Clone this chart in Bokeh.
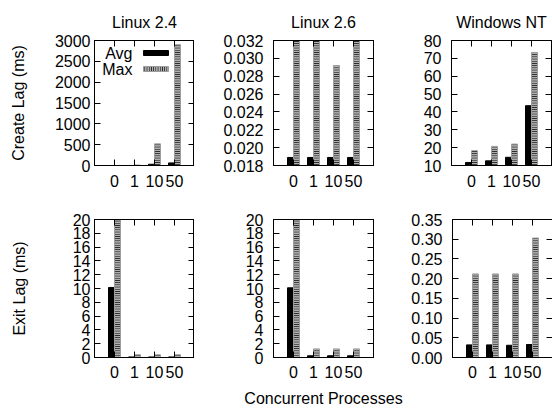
from bokeh.plotting import figure
from bokeh.models import (FactorRange, Range1d, FixedTicker, PrintfTickFormatter,
                          LinearAxis, CategoricalAxis, Label, BoxAnnotation, ColumnDataSource)
from bokeh.transform import dodge
from bokeh.layouts import column, row
from bokeh.embed import file_html
from bokeh.resources import INLINE

# ---------------- data ----------------
procs = ["0", "1", "10", "50"]
titles = ["Linux 2.4", "Linux 2.6", "Windows NT"]
series_names = ["Avg", "Max"]

create_avg_linux24 = [0.3, 0.6, 30, 62]
create_max_linux24 = [1, 12, 520, 2900]
create_avg_linux26 = [0.0189, 0.0189, 0.0189, 0.0189]
create_max_linux26 = [0.0325, 0.0325, 0.0292, 0.0325]
create_avg_winnt = [11.7, 12.6, 14.6, 43.5]
create_max_winnt = [18.3, 20.7, 22.0, 73.3]

exit_avg_linux24 = [10.15, 0.08, 0.08, 0.08]
exit_max_linux24 = [21.0, 0.4, 0.4, 0.4]
exit_avg_linux26 = [10.1, 0.25, 0.25, 0.25]
exit_max_linux26 = [21.0, 1.25, 1.25, 1.25]
exit_avg_winnt = [0.032, 0.032, 0.031, 0.033]
exit_max_winnt = [0.212, 0.212, 0.212, 0.303]

yticks_create_linux24 = [0, 500, 1000, 1500, 2000, 2500, 3000]
yticks_create_linux26 = [0.018, 0.020, 0.022, 0.024, 0.026, 0.028, 0.030, 0.032]
yticks_create_winnt = [10, 20, 30, 40, 50, 60, 70, 80]
yticks_exit_linux = [0, 2, 4, 6, 8, 10, 12, 14, 16, 18, 20]
yticks_exit_winnt = [0.00, 0.05, 0.10, 0.15, 0.20, 0.25, 0.30, 0.35]

ylabel_create = "Create Lag (ms)"
ylabel_exit = "Exit Lag (ms)"
xlabel = "Concurrent Processes"

# ---------------- style ----------------
FONT = "Liberation Sans"
FS = "16px"
MAX_FILL = "#b0b0b0"
MAX_LINE = "#9c9c9c"

col_left = [94, 79, 43]
col_right = [0, 35, 1]
col_fw = [100, 100, 100]
col_standoff = [4, 10, 10]
row_top = [40, 24]
row_bottom = [30, 50]
row_fh = [125, 138]
row_xstandoff = [9, 8]
ylabel_standoff = [25, 42]


def make_panel(r, c, avg, mx, yticks, fmt, title=None, ylabel=None, xlab=None, legend=False):
    p = figure(frame_width=col_fw[c], frame_height=row_fh[r],
               x_range=FactorRange(factors=procs, range_padding=0.25),
               y_range=Range1d(yticks[0], yticks[-1]),
               output_backend="svg", toolbar_location=None,
               min_border_left=col_left[c], min_border_right=col_right[c],
               min_border_top=row_top[r], min_border_bottom=row_bottom[r])
    p.background_fill_color = "white"
    p.border_fill_color = "white"
    p.outline_line_color = "black"
    p.outline_line_width = 1
    p.xgrid.grid_line_color = None
    p.ygrid.grid_line_color = None

    src = ColumnDataSource(dict(procs=procs, avg=avg, mx=mx))
    p.vbar(x=dodge("procs", -0.15, range=p.x_range), top="avg", bottom=0, width=0.3,
           source=src, fill_color="black", line_color="black")
    p.vbar(x=dodge("procs", 0.15, range=p.x_range), top="mx", bottom=0, width=0.3,
           source=src, fill_color=MAX_FILL, line_color=MAX_LINE,
           hatch_pattern="horizontal_line", hatch_color="black", hatch_scale=2.2, hatch_weight=1)

    if title:
        p.title.text = title
        p.title.align = "center"
        p.title.text_font = FONT
        p.title.text_font_size = FS
        p.title.text_font_style = "normal"
        p.title.text_color = "black"
        p.title.standoff = 19

    xa = p.xaxis[0]
    xa.major_tick_in = 6
    xa.major_tick_out = 0
    xa.axis_line_color = "black"
    xa.major_tick_line_color = "black"
    xa.major_label_text_font = FONT
    xa.major_label_text_font_size = FS
    xa.major_label_text_color = "black"
    xa.major_label_standoff = row_xstandoff[r]
    if xlab:
        xa.axis_label = xlab
        xa.axis_label_text_font = FONT
        xa.axis_label_text_font_size = FS
        xa.axis_label_text_font_style = "normal"
        xa.axis_label_text_color = "black"
        xa.axis_label_standoff = 9

    ya = p.yaxis[0]
    ya.ticker = FixedTicker(ticks=yticks)
    ya.formatter = PrintfTickFormatter(format=fmt)
    ya.major_tick_in = 6
    ya.major_tick_out = 0
    ya.minor_tick_in = 0
    ya.minor_tick_out = 0
    ya.axis_line_color = "black"
    ya.major_tick_line_color = "black"
    ya.major_label_text_font = FONT
    ya.major_label_text_font_size = FS
    ya.major_label_text_color = "black"
    ya.major_label_standoff = col_standoff[c]
    if ylabel:
        ya.axis_label = ylabel
        ya.axis_label_text_font = FONT
        ya.axis_label_text_font_size = FS
        ya.axis_label_text_font_style = "normal"
        ya.axis_label_text_color = "black"
        ya.axis_label_standoff = ylabel_standoff[r]

    # mirrored tick marks (no labels)
    ra = LinearAxis(ticker=FixedTicker(ticks=yticks), major_label_text_font_size="0px",
                    major_label_text_color=None,
                    major_tick_in=6, major_tick_out=0, minor_tick_in=0, minor_tick_out=0,
                    major_label_standoff=0, axis_line_color="black")
    p.add_layout(ra, "right")
    ta = CategoricalAxis(major_label_text_font_size="0px", major_label_text_color=None,
                         major_tick_in=6, major_tick_out=0,
                         major_label_standoff=0, axis_line_color="black")
    p.add_layout(ta, "above")

    if legend:
        fh = row_fh[r]
        for i, name in enumerate(series_names):
            yc = fh - 12.5 - 16 * i
            p.add_layout(Label(x=38, y=yc, x_units="screen", y_units="screen", text=name,
                               text_align="right", text_baseline="middle",
                               text_font=FONT, text_font_size=FS, text_color="black"))
            if i == 0:
                box = BoxAnnotation(left=49, right=74, bottom=yc - 2.5, top=yc + 2.5,
                                    left_units="screen", right_units="screen",
                                    top_units="screen", bottom_units="screen",
                                    fill_color="black", fill_alpha=1,
                                    line_color="black", line_alpha=1)
            else:
                box = BoxAnnotation(left=49, right=74, bottom=yc - 2.5, top=yc + 2.5,
                                    left_units="screen", right_units="screen",
                                    top_units="screen", bottom_units="screen",
                                    fill_color=MAX_FILL, fill_alpha=1,
                                    line_color=MAX_LINE, line_alpha=1,
                                    hatch_pattern="vertical_line", hatch_color="black",
                                    hatch_scale=2.2, hatch_weight=1, hatch_alpha=1)
            p.add_layout(box)
    return p


p1 = make_panel(0, 0, create_avg_linux24, create_max_linux24, yticks_create_linux24, "%d",
                title=titles[0], ylabel=ylabel_create, legend=True)
p2 = make_panel(0, 1, create_avg_linux26, create_max_linux26, yticks_create_linux26, "%.3f",
                title=titles[1])
p3 = make_panel(0, 2, create_avg_winnt, create_max_winnt, yticks_create_winnt, "%d",
                title=titles[2])
p4 = make_panel(1, 0, exit_avg_linux24, exit_max_linux24, yticks_exit_linux, "%d",
                ylabel=ylabel_exit)
p5 = make_panel(1, 1, exit_avg_linux26, exit_max_linux26, yticks_exit_linux, "%d",
                xlab=xlabel)
p6 = make_panel(1, 2, exit_avg_winnt, exit_max_winnt, yticks_exit_winnt, "%.2f")

layout = column(row(p1, p2, p3), row(p4, p5, p6))
open("out.html", "w").write(file_html(layout, INLINE))
